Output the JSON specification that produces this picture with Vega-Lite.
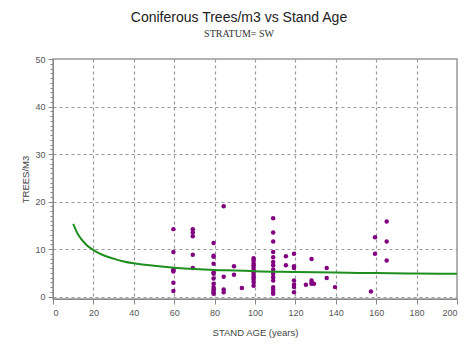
{
  "$schema": "https://vega.github.io/schema/vega-lite/v6.json",
  "width": 404,
  "height": 240,
  "autosize": {"type": "none"},
  "padding": {"left": 53, "top": 59, "right": 12, "bottom": 45},
  "background": "white",
  "title": {
    "text": "Coniferous Trees/m3  vs  Stand Age",
    "subtitle": "STRATUM= SW",
    "font": "Liberation Sans",
    "fontSize": 14,
    "fontWeight": "normal",
    "color": "#222",
    "subtitleFont": "Liberation Serif",
    "subtitleFontSize": 10,
    "subtitleColor": "#333",
    "subtitlePadding": 4,
    "anchor": "middle",
    "dx": -16,
    "offset": 16
  },
  "config": {
    "view": {"stroke": "#999", "strokeWidth": 1.5},
    "axis": {
      "labelFont": "Liberation Sans",
      "labelFontSize": 9,
      "labelColor": "#555",
      "titleFont": "Liberation Sans",
      "titleFontSize": 9.5,
      "titleFontWeight": "normal",
      "titleColor": "#444",
      "domainColor": "#888",
      "tickColor": "#888",
      "gridColor": "#999",
      "gridDash": [3, 3],
      "gridWidth": 1.2,
      "labelOverlap": false
    }
  },
  "datasets": {
    "points": [
      {"age": 59.6, "trees": 14.2}, {"age": 59.6, "trees": 9.4}, {"age": 59.6, "trees": 5.7}, {"age": 59.6, "trees": 5.5}, {"age": 59.6, "trees": 5.3}, {"age": 59.6, "trees": 2.9}, {"age": 59.6, "trees": 1.2},
      {"age": 69.2, "trees": 14.2}, {"age": 69.2, "trees": 13.5}, {"age": 69.2, "trees": 12.7}, {"age": 69.2, "trees": 8.8}, {"age": 69.2, "trees": 6.0},
      {"age": 79.5, "trees": 11.3}, {"age": 79.5, "trees": 8.6}, {"age": 79.5, "trees": 8.4}, {"age": 79.5, "trees": 6.9}, {"age": 79.5, "trees": 5.1}, {"age": 79.5, "trees": 4.8}, {"age": 79.5, "trees": 3.8}, {"age": 79.5, "trees": 2.7}, {"age": 79.5, "trees": 2.0}, {"age": 79.5, "trees": 1.6}, {"age": 79.5, "trees": 1.3}, {"age": 79.5, "trees": 0.9}, {"age": 79.5, "trees": 0.6},
      {"age": 84.5, "trees": 19.0}, {"age": 84.5, "trees": 4.2}, {"age": 84.5, "trees": 1.5}, {"age": 84.5, "trees": 0.9},
      {"age": 89.6, "trees": 6.4}, {"age": 89.6, "trees": 4.6},
      {"age": 93.5, "trees": 1.8},
      {"age": 99.3, "trees": 8.1}, {"age": 99.3, "trees": 7.6}, {"age": 99.3, "trees": 7.1}, {"age": 99.3, "trees": 6.6}, {"age": 99.3, "trees": 6.1}, {"age": 99.3, "trees": 5.6}, {"age": 99.3, "trees": 5.1}, {"age": 99.3, "trees": 4.6}, {"age": 99.3, "trees": 4.1}, {"age": 99.3, "trees": 3.6}, {"age": 99.3, "trees": 3.1}, {"age": 99.3, "trees": 2.3},
      {"age": 109, "trees": 16.5}, {"age": 109, "trees": 13.5}, {"age": 109, "trees": 11.6}, {"age": 109, "trees": 9.4}, {"age": 109, "trees": 8.3}, {"age": 109, "trees": 7.3}, {"age": 109, "trees": 6.6}, {"age": 109, "trees": 5.7}, {"age": 109, "trees": 4.8}, {"age": 109, "trees": 4.1}, {"age": 109, "trees": 3.4}, {"age": 109, "trees": 2.0}, {"age": 109, "trees": 1.5}, {"age": 109, "trees": 1.0}, {"age": 109, "trees": 0.6},
      {"age": 115.3, "trees": 8.5}, {"age": 115.3, "trees": 6.6},
      {"age": 119.3, "trees": 9.0}, {"age": 119.3, "trees": 6.4}, {"age": 119.3, "trees": 6.0}, {"age": 119.3, "trees": 3.4}, {"age": 119.3, "trees": 2.5}, {"age": 119.3, "trees": 2.0}, {"age": 119.3, "trees": 0.9},
      {"age": 125.2, "trees": 2.5},
      {"age": 128, "trees": 7.9}, {"age": 128, "trees": 3.4}, {"age": 128, "trees": 2.9}, {"age": 128, "trees": 2.7},
      {"age": 129.2, "trees": 2.7},
      {"age": 135.5, "trees": 6.0}, {"age": 135.5, "trees": 3.9},
      {"age": 139.6, "trees": 2.0},
      {"age": 157.4, "trees": 1.1},
      {"age": 159.4, "trees": 12.5}, {"age": 159.4, "trees": 9.0},
      {"age": 165.2, "trees": 15.8}, {"age": 165.2, "trees": 11.6}, {"age": 165.2, "trees": 7.6}
    ],
    "curve": [
      {"age": 10, "trees": 15.3}, {"age": 11, "trees": 14.3}, {"age": 12, "trees": 13.4}, {"age": 13, "trees": 12.7},
      {"age": 14, "trees": 12.1}, {"age": 15, "trees": 11.6}, {"age": 17, "trees": 10.7}, {"age": 20, "trees": 9.8},
      {"age": 25, "trees": 8.7}, {"age": 30, "trees": 8.0}, {"age": 35, "trees": 7.4}, {"age": 40, "trees": 7.0},
      {"age": 50, "trees": 6.5}, {"age": 60, "trees": 6.1}, {"age": 70, "trees": 5.8}, {"age": 80, "trees": 5.6},
      {"age": 90, "trees": 5.5}, {"age": 100, "trees": 5.35}, {"age": 120, "trees": 5.2}, {"age": 140, "trees": 5.05},
      {"age": 160, "trees": 4.95}, {"age": 180, "trees": 4.85}, {"age": 200, "trees": 4.8}
    ]
  },
  "layer": [
    {
      "data": {"name": "points"},
      "mark": {"type": "point", "shape": "circle", "filled": true, "size": 20, "color": "#800080", "opacity": 1},
      "encoding": {
        "x": {
          "field": "age", "type": "quantitative",
          "scale": {"domain": [0, 200], "nice": false, "zero": false},
          "axis": {
            "title": "STAND AGE  (years)",
            "values": [0,5,10,15,20,25,30,35,40,45,50,55,60,65,70,75,80,85,90,95,100,105,110,115,120,125,130,135,140,145,150,155,160,165,170,175,180,185,190,195,200],
            "labelExpr": "datum.value % 20 === 0 ? datum.label : ''",
            "tickSize": {"condition": {"test": "datum.value % 20 === 0", "value": 5}, "value": 3},
            "gridOpacity": {"condition": {"test": "datum.value % 20 === 0 && datum.value > 0 && datum.value < 200", "value": 1}, "value": 0},
            "labelPadding": 4,
            "titlePadding": 10
          }
        },
        "y": {
          "field": "trees", "type": "quantitative",
          "scale": {"domain": [-0.5, 50], "nice": false, "zero": false},
          "axis": {
            "title": "TREES/M3",
            "tickCount": 50,
            "labelExpr": "datum.value % 10 == 0 ? datum.label : ''",
            "tickSize": {"condition": {"test": "datum.value % 10 == 0", "value": 5}, "value": 3},
            "gridOpacity": {"condition": {"test": "datum.value % 10 == 0 && datum.value < 50", "value": 1}, "value": 0},
            "labelPadding": 3,
            "titlePadding": 4
          }
        }
      }
    },
    {
      "data": {"name": "curve"},
      "mark": {"type": "line", "color": "#1e8f1e", "strokeWidth": 2, "interpolate": "monotone"},
      "encoding": {
        "x": {"field": "age", "type": "quantitative"},
        "y": {"field": "trees", "type": "quantitative"}
      }
    }
  ]
}
